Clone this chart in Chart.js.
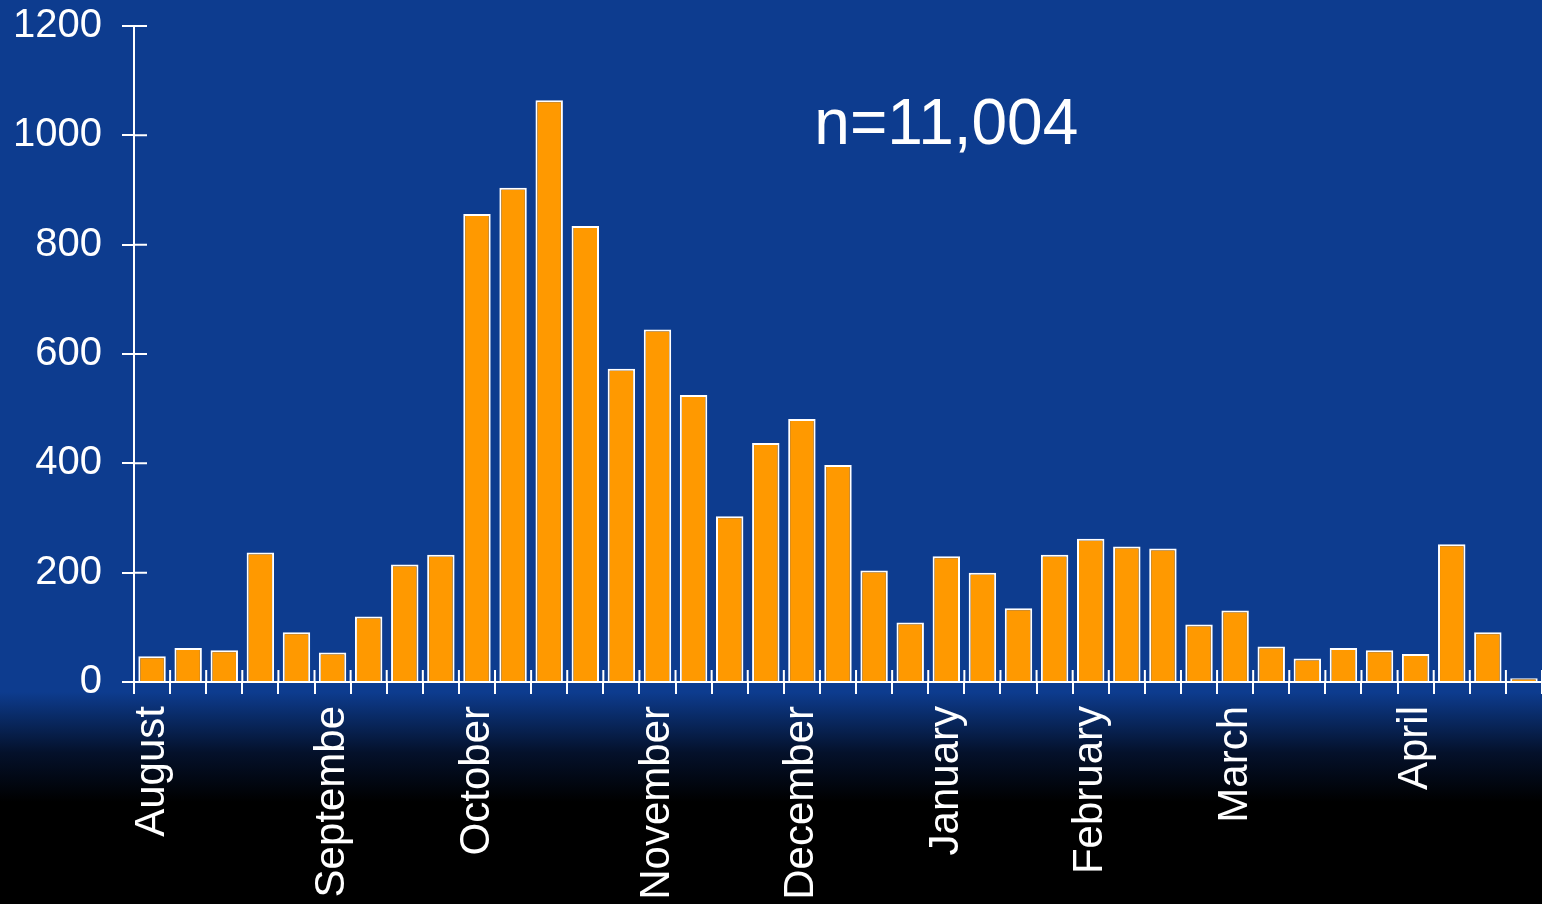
<!DOCTYPE html>
<html>
<head>
<meta charset="utf-8">
<title>Weekly cases</title>
<script src="https://cdn.jsdelivr.net/npm/chart.js@4/dist/chart.umd.min.js"></script>
<style>
  html, body { margin: 0; padding: 0; background: #000; }
  #wrap { width: 1542px; height: 904px; position: relative; }
</style>
</head>
<body>
<div id="wrap"><canvas id="chart"></canvas></div>
<script>
// weekly counts, August to April
const weeks = ['August', '', '', '', '', 'Septembe', '', '', '',
    'October', '', '', '', '', 'November', '', '', '',
    'December', '', '', '', 'January', '', '', '',
    'February', '', '', '', 'March', '', '', '', '',
    'April', '', '', ''];
const cases = [47, 62, 58, 237, 91, 54, 120, 215, 233,
    856, 904, 1064, 834, 573, 645, 525, 303, 437,
    481, 397, 204, 109, 230, 200, 135, 233, 262,
    248, 244, 105, 131, 65, 43, 62, 58, 51,
    252, 91, 7];
const yTicks = [0, 200, 400, 600, 800, 1000, 1200];
const totalLabel = 'n=11,004';

const blue = '#0d3c8f';
const orange = '#ff9900';
const font = 'Liberation Sans, Arial, sans-serif';

// blue slide background fading to black under the axis
const backdrop = {
    id: 'backdrop',
    beforeDraw(chart) {
        const { ctx, width, height, chartArea } = chart;
        const top = chartArea.bottom + 10;
        const g = ctx.createLinearGradient(0, top, 0, top + 110);
        g.addColorStop(0, blue);
        g.addColorStop(0.55, '#04112b');
        g.addColorStop(1, '#000000');
        ctx.save();
        ctx.fillStyle = blue;
        ctx.fillRect(0, 0, width, top);
        ctx.fillStyle = g;
        ctx.fillRect(0, top, width, height - top);
        ctx.restore();
    }
};

// tick marks cross the axes: draw the inner half of each one
const innerTicks = {
    id: 'innerTicks',
    afterDatasetsDraw(chart) {
        const { ctx, chartArea, scales } = chart;
        const x = scales.x, y = scales.y;
        ctx.save();
        ctx.strokeStyle = '#fff';
        ctx.lineWidth = 2;
        ctx.beginPath();
        for (let i = 0; i <= weeks.length; i++) {
            const px = x.getPixelForValue(i - 0.5);
            ctx.moveTo(px, chartArea.bottom);
            ctx.lineTo(px, chartArea.bottom - 12);
        }
        yTicks.forEach(v => {
            const py = y.getPixelForValue(v);
            ctx.moveTo(chartArea.left, py);
            ctx.lineTo(chartArea.left + 13, py);
        });
        ctx.stroke();
        ctx.restore();
    }
};

// total count written inside the plot
const totalText = {
    id: 'totalText',
    afterDraw(chart) {
        const { ctx, scales } = chart;
        ctx.save();
        ctx.fillStyle = '#fff';
        ctx.font = '64px ' + font;
        ctx.textAlign = 'center';
        ctx.textBaseline = 'alphabetic';
        ctx.fillText(totalLabel, scales.x.getPixelForValue(22), scales.y.getPixelForValue(985));
        ctx.restore();
    }
};

new Chart(document.getElementById('chart'), {
    type: 'bar',
    data: {
        labels: weeks,
        datasets: [{
            data: cases,
            backgroundColor: orange,
            borderColor: '#fff',
            borderWidth: 2,
            barPercentage: 0.76,
            categoryPercentage: 1
        }]
    },
    options: {
        responsive: true,
        maintainAspectRatio: false,
        animation: false,
        layout: { padding: { top: 26, right: 0, left: 0, bottom: 0 } },
        plugins: {
            legend: { display: false },
            tooltip: { enabled: false }
        },
        scales: {
            x: {
                offset: true,
                grid: {
                    offset: true,
                    drawOnChartArea: false,
                    color: '#fff',
                    lineWidth: 2,
                    tickLength: 12
                },
                border: { color: '#fff', width: 2 },
                ticks: {
                    autoSkip: false,
                    maxRotation: 90,
                    minRotation: 90,
                    padding: 12,
                    color: '#fff',
                    font: { family: font, size: 42 }
                },
                afterFit(scale) {
                    scale.height = 222;
                    scale.paddingLeft = 0;
                    scale.paddingRight = 0;
                }
            },
            y: {
                min: 0,
                max: 1200,
                afterBuildTicks(scale) {
                    scale.ticks = yTicks.map(v => ({ value: v }));
                },
                grid: {
                    drawOnChartArea: false,
                    color: '#fff',
                    lineWidth: 2,
                    tickLength: 12
                },
                border: { color: '#fff', width: 2 },
                ticks: {
                    padding: 20,
                    color: '#fff',
                    font: { family: font, size: 40 },
                    callback: v => String(v)
                },
                afterFit(scale) {
                    scale.width = 134;
                    scale.paddingTop = 0;
                    scale.paddingBottom = 0;
                }
            }
        }
    },
    plugins: [backdrop, innerTicks, totalText]
});
</script>
</body>
</html>
